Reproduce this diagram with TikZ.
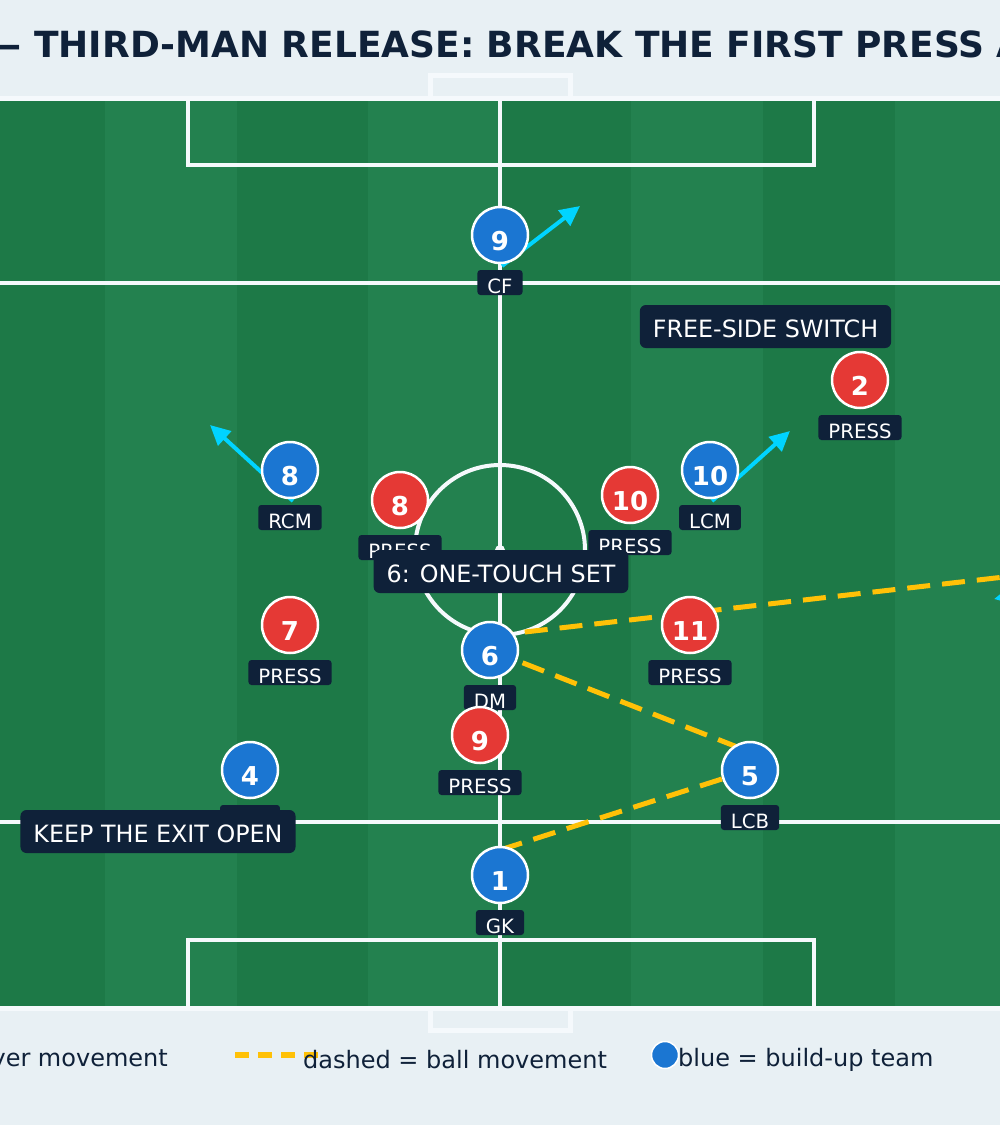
\documentclass[tikz,border=0pt]{standalone}
\usepackage{fontspec}
\setmainfont{DejaVu Sans}
\usetikzlibrary{arrows.meta,calc}
\definecolor{bgc}{HTML}{E8F0F4}
\definecolor{gdark}{HTML}{1D7947}
\definecolor{glight}{HTML}{23814F}
\definecolor{linec}{HTML}{F5F9FC}
\definecolor{navy}{HTML}{0F2139}
\definecolor{pblue}{HTML}{1B76D2}
\definecolor{pred}{HTML}{E53935}
\definecolor{ballc}{HTML}{FFC107}
\definecolor{runc}{HTML}{00D4FF}
\pgfdeclarelayer{back}
\pgfsetlayers{back,main}
\begin{document}
\begin{tikzpicture}[x=1pt,y=-1pt,
  fl/.style={draw=linec,line width=4pt},
  player/.style={circle,draw=white,line width=2.5pt,minimum size=56pt,inner sep=0pt,
    text=white,font=\fontsize{26}{30}\selectfont\bfseries,text height=30pt,text depth=0pt},
  bplayer/.style={player,fill=pblue},
  rplayer/.style={player,fill=pred},
  lbl/.style={fill=navy,rounded corners=3pt,text=white,inner xsep=10pt,inner ysep=0pt,
    text height=23.5pt,text depth=1.5pt,font=\fontsize{19.7}{22}\selectfont},
  note/.style={fill=navy,rounded corners=6pt,text=white,inner xsep=13pt,inner ysep=0pt,
    text height=32.5pt,text depth=10.5pt,font=\fontsize{23.8}{26}\selectfont},
  ball/.style={draw=ballc,line width=5pt,dash pattern=on 23pt off 12pt},
  mv/.style={draw=runc,line width=4pt,-{Triangle[length=20pt,width=19pt]}},
  legtxt/.style={text=navy,font=\fontsize{24}{27}\selectfont,inner sep=0pt}
]
\useasboundingbox (0,0) rectangle (1000,1125);
\begin{pgfonlayer}{back}
\fill[bgc] (0,0) rectangle (1000,1125);
% pitch stripes
\fill[gdark] (0,98) rectangle (1000,1008);
\fill[glight] (105,98) rectangle (236.6,1008);
\fill[glight] (368.2,98) rectangle (499.8,1008);
\fill[glight] (631.4,98) rectangle (763,1008);
\fill[glight] (894.6,98) rectangle (1000,1008);
% goals
\draw[draw=linec,line width=4.5pt] (430.5,98) -- (430.5,75.5) -- (570.5,75.5) -- (570.5,98);
\draw[draw=linec,line width=4.5pt] (430.5,1008) -- (430.5,1030.5) -- (570.5,1030.5) -- (570.5,1008);
% pitch lines
\draw[fl,line width=5pt] (-10,98) -- (1010,98);
\draw[fl,line width=5pt] (-10,1008) -- (1010,1008);
\draw[fl] (500,98) -- (500,1008);
\draw[fl] (-10,283) -- (1010,283);
\draw[fl] (-10,822) -- (1010,822);
\draw[fl] (187.5,98) -- (187.5,165) -- (813.5,165) -- (813.5,98);
\draw[fl] (187.5,1008) -- (187.5,940) -- (813.5,940) -- (813.5,1008);
\draw[fl] (500,550) circle[radius=85];
\fill[linec] (500,550) circle[radius=5];
\end{pgfonlayer}

% blue team
\node[bplayer] (b9) at (500,235) {9};
\node[lbl] (b9l) at (500,282.5) {CF};
\node[bplayer] (b8) at (290,470) {8};
\node[lbl] (b8l) at (290,517.5) {RCM};
\node[bplayer] (b10) at (710,470) {10};
\node[lbl] (b10l) at (710,517.5) {LCM};
\node[bplayer] (b6) at (490,650) {6};
\node[lbl] (b6l) at (490,697.5) {DM};
\node[bplayer] (b4) at (250,770) {4};
\node[lbl] (b4l) at (250,817.5) {RCB};
\node[bplayer] (b5) at (750,770) {5};
\node[lbl] (b5l) at (750,817.5) {LCB};
\node[bplayer] (b1) at (500,875) {1};
\node[lbl] (b1l) at (500,922.5) {GK};

% red team
\node[rplayer] (r2) at (860,380) {2};
\node[lbl] (r2l) at (860,427.5) {PRESS};
\node[rplayer] (r8) at (400,500) {8};
\node[lbl] (r8l) at (400,547.5) {PRESS};
\node[rplayer] (r10) at (630,495) {10};
\node[lbl] (r10l) at (630,542.5) {PRESS};
\node[rplayer] (r7) at (290,625) {7};
\node[lbl] (r7l) at (290,672.5) {PRESS};
\node[rplayer] (r11) at (690,625) {11};
\node[lbl] (r11l) at (690,672.5) {PRESS};
\node[rplayer] (r9) at (480,735) {9};
\node[lbl] (r9l) at (480,782.5) {PRESS};

% free ends
\coordinate (run9) at (580,206);
\coordinate (run8) at (210,425);
\coordinate (run10) at (790,431);
\coordinate (runxs) at (1080,581);
\coordinate (runxe) at (994,599);
\coordinate (passx) at (1100,566);

\begin{pgfonlayer}{back}
% ball movement
\draw[ball] ($(b1)+(0,-25)$) -- (b5.center);
\draw[ball] (b6.center) -- ($(b5)+(0,-18)$);
\draw[ball] ($(b6)+(0,-14)$) -- (passx);
% player movement
\draw[mv] ($(b9)+(2,31)$) -- (run9);
\draw[mv] ($(b8)+(3,31)$) -- (run8);
\draw[mv] ($(b10)+(2,31)$) -- (run10);
\draw[mv] (runxs) -- (runxe);
\end{pgfonlayer}

% annotations
\node[note] (n1) at (765.5,326.5) {FREE-SIDE SWITCH};
\node[note] (n2) at (501,571.5) {6: ONE-TOUCH SET};
\node[note] (n3) at (158,831.5) {KEEP THE EXIT OPEN};

% title
\node[anchor=base west,inner sep=0pt,text=navy,font=\fontsize{36}{40}\selectfont\bfseries] (title) at (-14.5,57.5) {— THIRD-MAN RELEASE: BREAK THE FIRST PRESS A};

% legend
\node[legtxt,anchor=base east] (lg1) at (168,1066) {player movement};
\coordinate (lgs) at (235,1055);
\coordinate (lge) at (318,1055);
\draw[draw=ballc,line width=6pt,dash pattern=on 14pt off 9pt] (lgs) -- (lge);
\node[legtxt,anchor=base west] (lg2) at (303,1068) {dashed = ball movement};
\node[circle,fill=pblue,draw=white,line width=1.5pt,minimum size=27pt,inner sep=0pt] (lgc) at (665,1055) {};
\node[legtxt,anchor=base west] (lg3) at (678,1066) {blue = build-up team};
\end{tikzpicture}
\end{document}
